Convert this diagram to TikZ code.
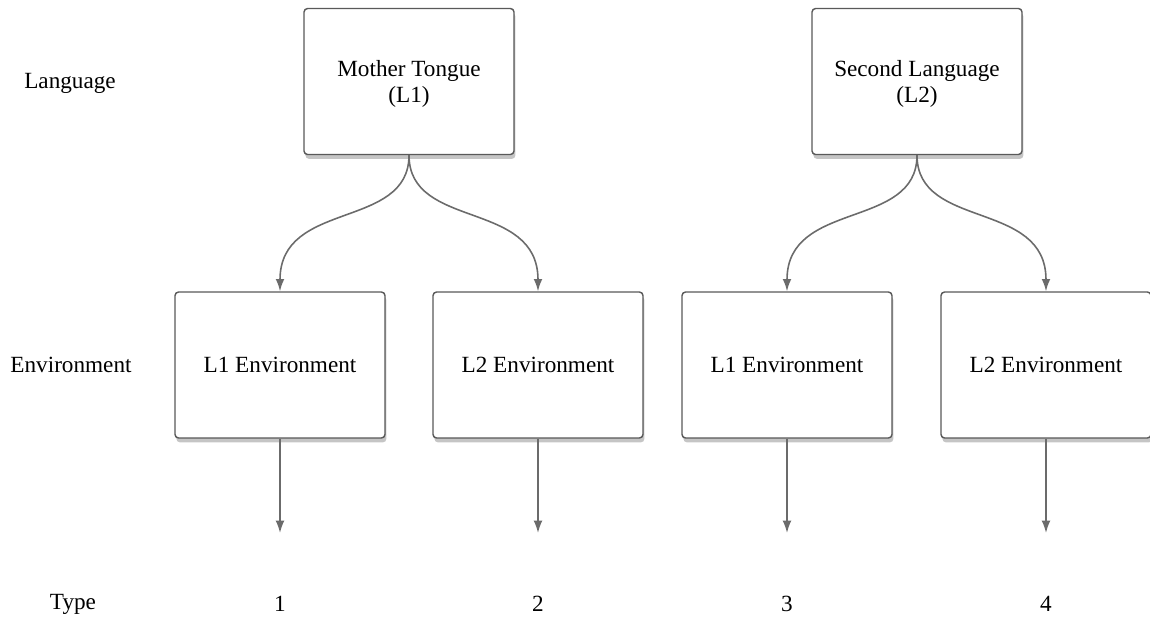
\documentclass[tikz,border=0pt]{standalone}
\usepackage{fontspec}
\setmainfont{Liberation Serif}
\usetikzlibrary{shadows,arrows.meta}
\tikzset{
  box/.style={draw=black!65, line width=0.8pt, rounded corners=2pt, fill=white,
    align=center, font=\fontsize{13.2}{15.3}\selectfont,
    minimum width=4.2cm, minimum height=2.92cm,
    drop shadow={shadow xshift=0.8pt, shadow yshift=-2.5pt, fill=black!45, opacity=0.5}},
  lang/.style={box, text depth=0pt},
  env/.style={box},
  lbl/.style={font=\fontsize{13.2}{15.3}\selectfont},
  pfeil/.style={draw=black!58, line width=0.9pt, -{Latex[length=7pt,width=5pt]}}
}
\begin{document}
\begin{tikzpicture}[x=0.02cm, y=-0.02cm]
            \useasboundingbox (0,0) rectangle (1150,620);
            % Zeilen links
            \node [lbl] (rowlang) at (70, 83)  {Language};
            \node [lbl] (rowenv)  at (71, 365) {Environment};
            \node [lbl] (rowtype) at (73, 604) {Type};
            % Sprachen
            \node [lang] (mt) at (409, 81.5) {Mother Tongue\\(L1)};
            \node [lang] (sl) at (917, 81.5) {Second Language\\(L2)};
            % Umgebungen
            \node [env] (e1) at (280,  365) {L1 Environment};
            \node [env] (e2) at (538,  365) {L2 Environment};
            \node [env] (e3) at (787,  365) {L1 Environment};
            \node [env] (e4) at (1046, 365) {L2 Environment};
            % Typen
            \foreach \i/\x in {1/280, 2/538, 3/787, 4/1046} {
              \coordinate (a\i) at (\x, 533);
              \node [lbl] (t\i) at (\x, 604) {\i};
            }
            % Pfeile
            \draw [pfeil] (mt.south) .. controls +(0,75) and +(0,-92) .. (e1.north);
            \draw [pfeil] (mt.south) .. controls +(0,75) and +(0,-92) .. (e2.north);
            \draw [pfeil] (sl.south) .. controls +(0,75) and +(0,-92) .. (e3.north);
            \draw [pfeil] (sl.south) .. controls +(0,75) and +(0,-92) .. (e4.north);
            \foreach \i in {1,...,4}
              \draw [pfeil] (e\i.south) -- (a\i);
        \end{tikzpicture}
\end{document}
